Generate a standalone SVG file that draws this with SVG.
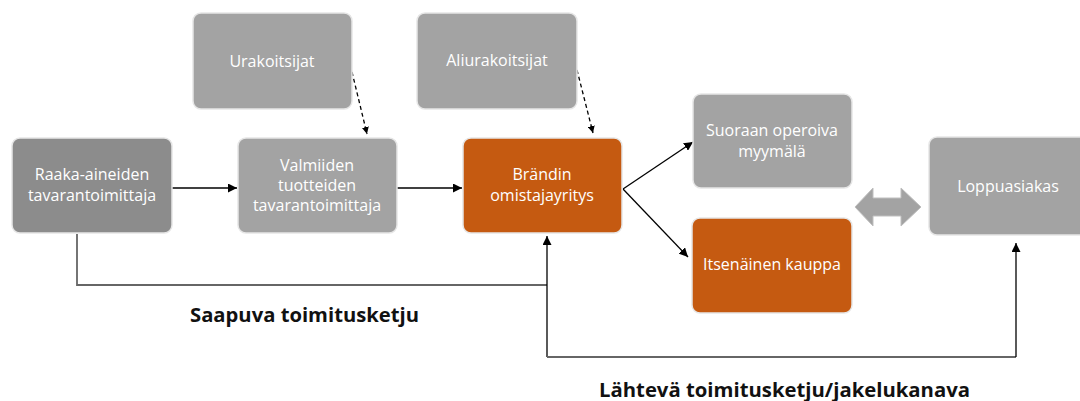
<svg xmlns="http://www.w3.org/2000/svg" width="1080" height="401" viewBox="0 0 1080 401">
<style>
.box{stroke:#e6e6e6;stroke-width:1.5}
.g1{fill:#8c8c8c}
.g2{fill:#a3a3a3}
.or{fill:#c55a11}
.t{font-family:"Open Sans","Liberation Sans",sans-serif;font-size:16px;fill:#ffffff;text-anchor:middle}
.lbl{font-family:"Open Sans","Liberation Sans",sans-serif;font-size:20px;font-weight:bold;fill:#111111}
.c{fill:none;stroke:#000;stroke-width:1.3}
.d{fill:none;stroke:#000;stroke-width:1.3;stroke-dasharray:4,3}
.gl{fill:none;stroke:#666666;stroke-width:1.8}
</style>
<defs>
<marker id="ah" viewBox="0 0 10 10" refX="10" refY="5" markerWidth="7" markerHeight="7" markerUnits="userSpaceOnUse" orient="auto">
<path d="M0,0 L10,5 L0,10 z" fill="#000"/>
</marker>
<marker id="ah2" viewBox="0 0 10 10" refX="10" refY="5" markerWidth="9" markerHeight="9" markerUnits="userSpaceOnUse" orient="auto">
<path d="M0,0 L10,5 L0,10 z" fill="#000"/>
</marker>
</defs>
<rect width="1080" height="401" fill="#ffffff"/>
<g id="connectors">
<line class="c" x1="172" y1="188" x2="237" y2="188" marker-end="url(#ah2)"/>
<line class="c" x1="397" y1="188" x2="462" y2="188" marker-end="url(#ah2)"/>
<line class="d" x1="352" y1="72" x2="367" y2="134" marker-end="url(#ah)"/>
<line class="d" x1="577" y1="70" x2="593" y2="133" marker-end="url(#ah)"/>
<line class="c" x1="623" y1="189" x2="693" y2="142" marker-end="url(#ah2)"/>
<line class="c" x1="623" y1="189" x2="688" y2="257" marker-end="url(#ah2)"/>
<polyline class="gl" points="77,234 77,285 547,285"/>
<line class="c" x1="547" y1="357" x2="547" y2="236" stroke-width="1.8" marker-end="url(#ah2)"/>
<polyline class="gl" points="547,357 1016,357"/>
<line class="c" x1="1016" y1="357" x2="1016" y2="243" stroke-width="1.5" marker-end="url(#ah2)"/>
<path d="M855,207 L873,188 L873,198 L901,198 L901,188 L921,207 L901,226 L901,216 L873,216 L873,226 Z" fill="#a3a3a3" stroke="#bfbfbf" stroke-width="1"/>
</g>
<g id="raaka">
<rect class="box g1" x="12" y="138" width="160" height="95" rx="8"/>
<text class="t" x="92" y="180">Raaka-aineiden</text>
<text class="t" x="92" y="201">tavarantoimittaja</text>
</g>
<g id="urakoitsijat">
<rect class="box g2" x="193" y="13" width="159" height="96" rx="8"/>
<text class="t" x="272" y="67">Urakoitsijat</text>
</g>
<g id="valmiiden">
<rect class="box g2" x="238" y="138" width="159" height="95" rx="8"/>
<text class="t" x="317" y="171">Valmiiden</text>
<text class="t" x="317" y="191">tuotteiden</text>
<text class="t" x="317" y="211">tavarantoimittaja</text>
</g>
<g id="aliurakoitsijat">
<rect class="box g2" x="417" y="13" width="160" height="96" rx="8"/>
<text class="t" x="497" y="66">Aliurakoitsijat</text>
</g>
<g id="brandin">
<rect class="box or" x="463" y="138" width="159" height="95" rx="8"/>
<text class="t" x="542" y="180">Brändin</text>
<text class="t" x="542" y="201">omistajayritys</text>
</g>
<g id="suoraan">
<rect class="box g2" x="693" y="94" width="159" height="94" rx="8"/>
<text class="t" x="772" y="136">Suoraan operoiva</text>
<text class="t" x="772" y="157">myymälä</text>
</g>
<g id="itsenainen">
<rect class="box or" x="692" y="218" width="160" height="95" rx="8"/>
<text class="t" x="772" y="270">Itsenäinen kauppa</text>
</g>
<g id="loppuasiakas">
<rect class="box g2" x="929" y="137" width="160" height="98" rx="8"/>
<text class="t" x="1008" y="192">Loppuasiakas</text>
</g>
<text class="lbl" x="190" y="322" textLength="229" lengthAdjust="spacingAndGlyphs">Saapuva toimitusketju</text>
<text class="lbl" x="599" y="397" textLength="371" lengthAdjust="spacingAndGlyphs">Lähtevä toimitusketju/jakelukanava</text>
</svg>
